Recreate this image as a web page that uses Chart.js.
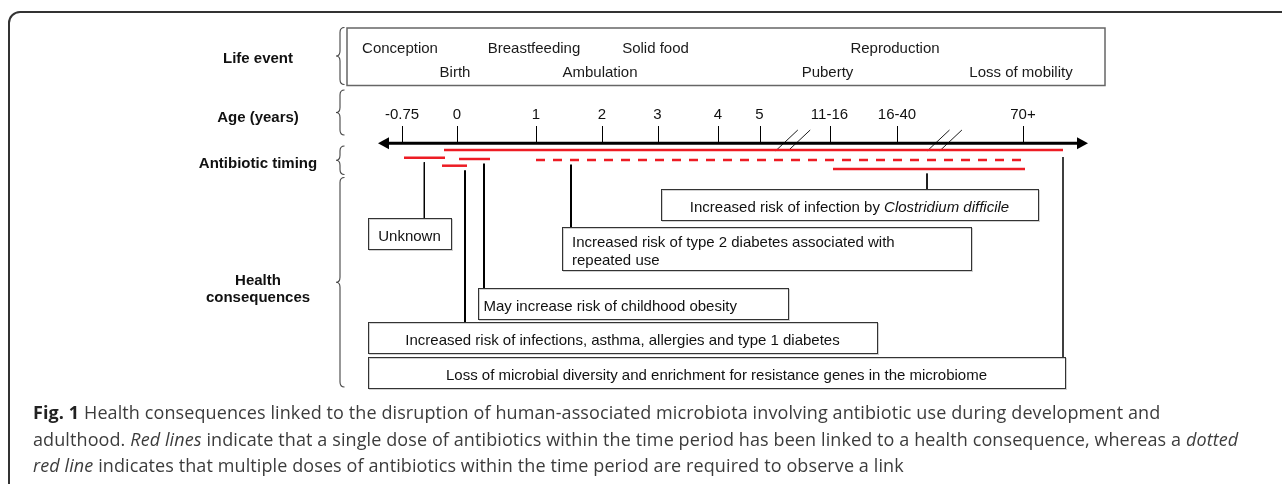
<!DOCTYPE html>
<html>
<head>
<meta charset="utf-8">
<script src="https://cdn.jsdelivr.net/npm/chart.js@4.4.1/dist/chart.umd.min.js"></script>
<style>
  html, body { margin: 0; padding: 0; background: #fff; }
  #wrap { position: relative; width: 1282px; height: 484px; overflow: hidden; }
  #frame { position: absolute; left: 8px; top: 11px; width: 1400px; height: 600px; border: 2px solid #333; border-radius: 12px; box-sizing: border-box; }
  #chart { position: absolute; left: 0; top: 0; }
  #caption { position: absolute; left: 33px; top: 399px; font-family: "Open Sans", sans-serif; font-size: 18px; letter-spacing: 0.1px; line-height: 26.5px; color: #3c3c3c; white-space: nowrap; }
  #caption b { color: #222; }
</style>
</head>
<body>
<div id="wrap">
  <div id="frame"></div>
  <canvas id="chart" width="1282" height="484"></canvas>
  <div id="caption">
    <b>Fig. 1</b> Health consequences linked to the disruption of human-associated microbiota involving antibiotic use during development and<br>
    adulthood. <i>Red lines</i> indicate that a single dose of antibiotics within the time period has been linked to a health consequence, whereas a <i>dotted</i><br>
    <i>red line</i> indicates that multiple doses of antibiotics within the time period are required to observe a link
  </div>
</div>
<script>
// Linha do tempo: rótulos de idade e sua posição na escala
const ageTicks = ['-0.75', '0', '1', '2', '3', '4', '5', '11-16', '16-40', '70+'];
const agePos = [10.2, 15.7, 23.6, 30.2, 35.75, 41.8, 45.95, 52.95, 59.7, 72.3];
const ageBreaks = [49.3, 64.47];

// Eventos de vida, ligados a um tick da idade
const lifeEvents = ['Conception', 'Birth', 'Breastfeeding', 'Ambulation', 'Solid food', 'Puberty', 'Reproduction', 'Loss of mobility'];
const lifeEventTick = [0, 1, 2, 3, 4, 7, 8, 9];
const lifeEventRow = [0, 1, 0, 1, 0, 1, 0, 1];

// Períodos de uso de antibiótico (linhas vermelhas)
const doseStart = [14.4, 10.4, 15.9, 14.2, 23.6, 53.3];
const doseEnd = [76.3, 14.5, 19.0, 16.7, 72.8, 72.5];
const doseLevel = [15.0, 15.77, 15.9, 16.57, 16.0, 16.9];
const doseMultiple = [false, false, false, false, true, false];

// Consequências de saúde
const outcomeText = [
    ['Unknown'],
    ['Increased risk of infection by '],
    ['Increased risk of type 2 diabetes associated with', 'repeated use'],
    ['May increase risk of childhood obesity'],
    ['Increased risk of infections, asthma, allergies and type 1 diabetes'],
    ['Loss of microbial diversity and enrichment for resistance genes in the microbiome']
];
const outcomeItalic = ['', 'Clostridium difficile', '', '', '', ''];
const outcomeDose = [1, 5, 4, 2, 3, 0];

// Layout das caixas (unidades da escala)
const boxes = [
    { x0: 6.8, x1: 15.1, y0: 21.8, y1: 24.9, align: 'center', link: 12.43, lw: 1 },
    { x0: 36.1, x1: 73.8, y0: 18.9, y1: 22.0, align: 'center', link: 62.7, lw: 1 },
    { x0: 26.2, x1: 67.1, y0: 22.7, y1: 27.0, align: 'left', pad: 1.0, link: 27.1, lw: 2 },
    { x0: 17.8, x1: 48.8, y0: 28.8, y1: 31.9, align: 'left', pad: 0.55, link: 18.4, lw: 2 },
    { x0: 6.8, x1: 57.7, y0: 32.2, y1: 35.3, align: 'center', link: 16.5, lw: 2 },
    { x0: 6.8, x1: 76.5, y0: 35.7, y1: 38.8, align: 'center', link: 76.3, lw: 1.5 }
];

const rowLabels = [['Life event'], ['Age (years)'], ['Antibiotic timing'], ['Health', 'consequences']];
const rowLabelY = [5.9, 11.8, 16.4, 28.95];
const braces = [[2.75, 8.45], [9.0, 13.5], [14.6, 17.45], [17.75, 38.7]];

const RED = '#ed1c24';
const FONT = '"Liberation Sans", Arial, sans-serif';

const datasets = [];
doseStart.forEach((s, i) => {
    datasets.push({
        data: [{ x: s, y: doseLevel[i] }, { x: doseEnd[i], y: doseLevel[i] }],
        borderColor: RED,
        borderWidth: 2.5,
        borderDash: doseMultiple[i] ? [9, 8] : [],
        borderCapStyle: 'butt',
        pointRadius: 0
    });
});
boxes.forEach((b, i) => {
    datasets.push({
        data: [{ x: b.link, y: doseLevel[outcomeDose[i]] + (i === 5 ? 0.7 : 0.45) }, { x: b.link, y: b.y0 }],
        borderColor: '#000',
        borderWidth: b.lw,
        pointRadius: 0
    });
});

function brace(ctx, xt, xb, xe, y0, y1) {
    const ym = (y0 + y1) / 2, r = 5;
    ctx.beginPath();
    ctx.moveTo(xe, y0);
    ctx.quadraticCurveTo(xb, y0, xb, y0 + r);
    ctx.lineTo(xb, ym - r);
    ctx.quadraticCurveTo(xb, ym, xt, ym);
    ctx.quadraticCurveTo(xb, ym, xb, ym + r);
    ctx.lineTo(xb, y1 - r);
    ctx.quadraticCurveTo(xb, y1, xe, y1);
    ctx.stroke();
}

const diagram = {
    id: 'diagram',
    beforeDatasetsDraw(chart) {
        const { ctx, scales: { x, y } } = chart;
        const X = v => x.getPixelForValue(v), Y = v => y.getPixelForValue(v);
        ctx.save();

        // rótulos das linhas
        ctx.fillStyle = '#111';
        ctx.font = 'bold 15px ' + FONT;
        ctx.textAlign = 'center';
        ctx.textBaseline = 'middle';
        rowLabels.forEach((lines, i) => {
            lines.forEach((t, k) => {
                ctx.fillText(t, X(-4.2), Y(rowLabelY[i]) + (k - (lines.length - 1) / 2) * 17.5);
            });
        });

        // chaves
        ctx.strokeStyle = '#444';
        ctx.lineWidth = 1.1;
        braces.forEach(b => brace(ctx, X(3.6), X(4.0), X(4.45), Y(b[0]), Y(b[1])));

        // caixa dos eventos de vida
        ctx.strokeStyle = '#666';
        ctx.lineWidth = 1.5;
        ctx.strokeRect(X(4.7), Y(2.8), X(80.5) - X(4.7), Y(8.55) - Y(2.8));
        ctx.fillStyle = '#1a1a1a';
        ctx.font = '15px ' + FONT;
        lifeEvents.forEach((e, i) => {
            ctx.fillText(e, X(agePos[lifeEventTick[i]]) - 2, Y(lifeEventRow[i] ? 7.3 : 4.9));
        });

        // eixo das idades
        ctx.fillStyle = '#000';
        ctx.strokeStyle = '#000';
        ctx.lineWidth = 3;
        const ay = Y(14.33);
        ctx.beginPath();
        ctx.moveTo(X(8.6), ay);
        ctx.lineTo(X(77.9), ay);
        ctx.stroke();
        ctx.beginPath();
        ctx.moveTo(X(7.8), ay); ctx.lineTo(X(8.9), ay - 6); ctx.lineTo(X(8.9), ay + 6); ctx.closePath();
        ctx.fill();
        ctx.beginPath();
        ctx.moveTo(X(78.8), ay); ctx.lineTo(X(77.7), ay - 6); ctx.lineTo(X(77.7), ay + 6); ctx.closePath();
        ctx.fill();

        ctx.lineWidth = 1;
        ctx.fillStyle = '#111';
        agePos.forEach((p, i) => {
            const px = Math.round(X(p)) + 0.5;
            ctx.beginPath();
            ctx.moveTo(px, Y(12.6));
            ctx.lineTo(px, ay);
            ctx.stroke();
            ctx.fillText(ageTicks[i], X(p), Y(11.5));
        });

        // quebras da escala
        ctx.lineWidth = 0.9;
        ageBreaks.forEach(b => {
            [-0.62, 0.62].forEach(o => {
                const cx = X(b + o);
                ctx.beginPath();
                ctx.moveTo(cx - 11, Y(15.07));
                ctx.lineTo(cx + 11, Y(13.0));
                ctx.stroke();
            });
        });
        ctx.restore();
    },
    afterDatasetsDraw(chart) {
        const { ctx, scales: { x, y } } = chart;
        const X = v => x.getPixelForValue(v), Y = v => y.getPixelForValue(v);
        ctx.save();
        ctx.textBaseline = 'middle';
        boxes.forEach((b, i) => {
            const l = Math.round(X(b.x0)) + 0.5, t = Math.round(Y(b.y0)) + 0.5;
            const w = Math.round(X(b.x1) - X(b.x0)), h = Math.round(Y(b.y1) - Y(b.y0));
            ctx.strokeStyle = 'rgba(0,0,0,0.18)';
            ctx.lineWidth = 1;
            ctx.strokeRect(l + 1, t + 1, w, h);
            ctx.strokeStyle = '#333';
            ctx.strokeRect(l, t, w, h);

            ctx.fillStyle = '#111';
            const lines = outcomeText[i];
            const cy = (Y(b.y0) + Y(b.y1)) / 2 + 3.5;
            lines.forEach((txt, k) => {
                const ly = cy + (k - (lines.length - 1) / 2) * 18;
                ctx.font = '15px ' + FONT;
                if (b.align === 'left') {
                    ctx.textAlign = 'left';
                    ctx.fillText(txt, X(b.x0 + b.pad), ly);
                } else {
                    const it = outcomeItalic[i];
                    const w1 = ctx.measureText(txt).width;
                    ctx.font = 'italic 15px ' + FONT;
                    const w2 = it ? ctx.measureText(it).width : 0;
                    let sx = (X(b.x0) + X(b.x1)) / 2 - (w1 + w2) / 2;
                    ctx.textAlign = 'left';
                    ctx.font = '15px ' + FONT;
                    ctx.fillText(txt, sx, ly);
                    if (it) {
                        ctx.font = 'italic 15px ' + FONT;
                        ctx.fillText(it, sx + w1, ly);
                    }
                }
            });
        });
        ctx.restore();
    }
};

new Chart(document.getElementById('chart'), {
    type: 'line',
    data: { datasets: datasets },
    options: {
        responsive: false,
        animation: false,
        events: [],
        layout: { padding: { left: 300, right: 182, top: 0, bottom: 0 } },
        scales: {
            x: { type: 'linear', min: 0, max: 80, display: false },
            y: { type: 'linear', min: 0, max: 48.4, reverse: true, display: false }
        },
        plugins: { legend: { display: false }, tooltip: { enabled: false } }
    },
    plugins: [diagram]
});
</script>
</body>
</html>
